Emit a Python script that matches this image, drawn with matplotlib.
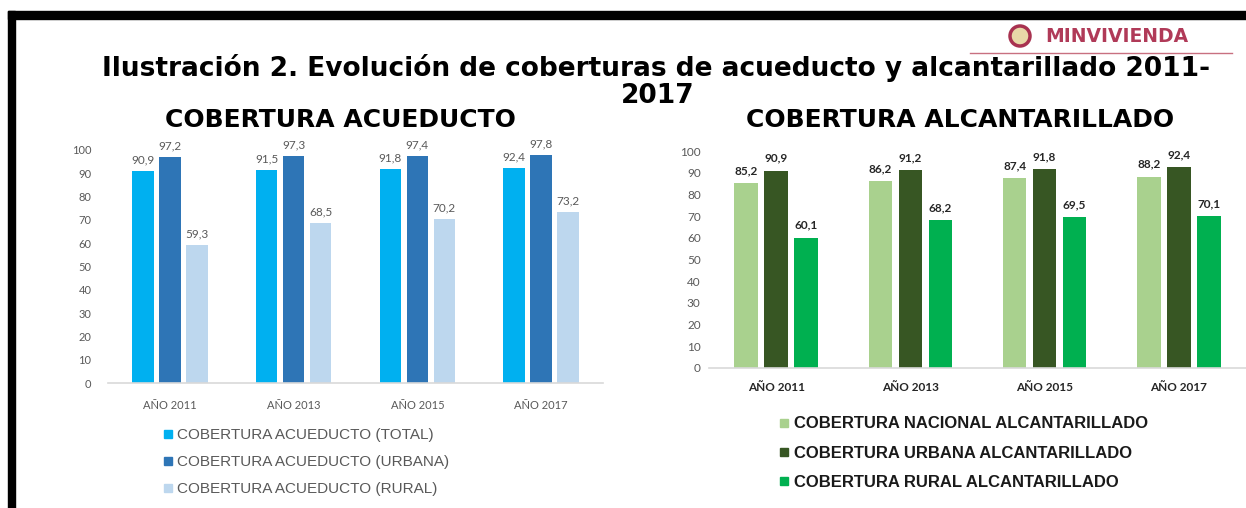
#!/usr/bin/env python3
"""Coberturas de acueducto y alcantarillado 2011-2017 (two grouped bar charts)."""
import numpy as np
import matplotlib

matplotlib.use("Agg")
import matplotlib.pyplot as plt
from matplotlib.lines import Line2D
from matplotlib.patches import Rectangle, Ellipse

# --- data -------------------------------------------------------------
years = ["AÑO 2011", "AÑO 2013", "AÑO 2015", "AÑO 2017"]

acu_total = [90.9, 91.5, 91.8, 92.4]
acu_urbana = [97.2, 97.3, 97.4, 97.8]
acu_rural = [59.3, 68.5, 70.2, 73.2]
acu_names = ["COBERTURA ACUEDUCTO (TOTAL)",
             "COBERTURA ACUEDUCTO (URBANA)",
             "COBERTURA ACUEDUCTO (RURAL)"]

alc_nacional = [85.2, 86.2, 87.4, 88.2]
alc_urbana = [90.9, 91.2, 91.8, 92.4]
alc_rural = [60.1, 68.2, 69.5, 70.1]
alc_names = ["COBERTURA NACIONAL ALCANTARILLADO",
             "COBERTURA URBANA ALCANTARILLADO",
             "COBERTURA RURAL ALCANTARILLADO"]

acu_colors = ["#00B0F0", "#2E75B6", "#BDD7EE"]
alc_colors = ["#A9D18E", "#375623", "#00B050"]

W, H = 1246, 508
NUM = ["Lato", "DejaVu Sans"]
LEG = ["Liberation Sans", "DejaVu Sans"]


def fx(px):
    return px / W


def fy(py):
    return 1 - py / H


def fmt(v):
    return f"{v:.1f}".replace(".", ",")


def grouped(ax, series, colors, width, step, lbl_color, lbl_weight, lbl_off):
    x = np.arange(len(years))
    for i, (vals, col) in enumerate(zip(series, colors)):
        pos = x + (i - 1) * step
        ax.bar(pos, vals, width=width, color=col, zorder=2)
        for p, v in zip(pos, vals):
            ax.annotate(fmt(v), (p, v), xytext=(0, lbl_off),
                        textcoords="offset points", ha="center", va="bottom",
                        fontsize=8.5, color=lbl_color, weight=lbl_weight,
                        family=NUM, clip_on=False)
    ax.set_xlim(-0.5, len(years) - 0.5)
    ax.set_ylim(0, 100)
    ax.set_yticks(range(0, 101, 10))
    ax.set_xticks(x)
    ax.set_xticklabels(years)
    for s in ("top", "right", "left"):
        ax.spines[s].set_visible(False)
    ax.spines["bottom"].set_color("#D9D9D9")
    ax.spines["bottom"].set_linewidth(1.2)
    ax.tick_params(length=0)


def square_legend(ax, names, colors, x_px, ymid_px, size, weight, color,
                  spacing):
    hs = [Line2D([], [], ls="none", marker="s", ms=6, color=c) for c in colors]
    leg = ax.legend(hs, names, loc="center left",
                    bbox_to_anchor=(fx(x_px), fy(ymid_px)),
                    bbox_transform=fig.transFigure, frameon=False,
                    borderpad=0, borderaxespad=0,
                    handlelength=0.6, handletextpad=0.3, labelspacing=spacing,
                    prop={"family": LEG, "size": size, "weight": weight})
    for t in leg.get_texts():
        t.set_color(color)
    return leg


fig = plt.figure(figsize=(W / 100, H / 100), dpi=100)

# black frame (top and left edges only visible)
fig.add_artist(Rectangle((fx(8), fy(19)), fx(W - 8), 8 / H,
                         transform=fig.transFigure, color="black"))
fig.add_artist(Rectangle((fx(8), 0), 7 / W, fy(11),
                         transform=fig.transFigure, color="black"))

# logo
fig.add_artist(Ellipse((fx(1020), fy(36)), 20 / W, 20 / H,
                       transform=fig.transFigure, facecolor="#E8D9A8",
                       edgecolor="#A83250", lw=2.5))
fig.text(fx(1045), fy(36), "MINVIVIENDA", ha="left", va="center",
         fontsize=13.5, weight="bold", color="#B03A58",
         family="DejaVu Sans")
fig.add_artist(Line2D([fx(970), fx(1232)], [fy(53), fy(53)],
                      transform=fig.transFigure, color="#C87080", lw=1))

# titles
fig.text(fx(656), fy(68),
         "Ilustración 2. Evolución de coberturas de acueducto y alcantarillado 2011-",
         ha="center", va="center", fontsize=19, weight="bold",
         family="DejaVu Sans")
fig.text(fx(658), fy(96), "2017", ha="center", va="center", fontsize=19,
         weight="bold", family="DejaVu Sans")
fig.text(fx(340), fy(120), "COBERTURA ACUEDUCTO", ha="center", va="center",
         fontsize=18, weight="bold", family="DejaVu Sans")
fig.text(fx(960), fy(120), "COBERTURA ALCANTARILLADO", ha="center",
         va="center", fontsize=18, weight="bold", family="DejaVu Sans")

# left chart: acueducto
ax1 = fig.add_axes([fx(108), fy(383), 495 / W, 233 / H])
grouped(ax1, [acu_total, acu_urbana, acu_rural], acu_colors,
        0.174, 0.218, "#595959", "normal", 4)
ax1.tick_params(axis="y", pad=12, labelsize=8, labelcolor="#595959")
ax1.tick_params(axis="x", pad=12, labelsize=8, labelcolor="#595959")
for t in ax1.get_xticklabels() + ax1.get_yticklabels():
    t.set_family(NUM)
square_legend(ax1, acu_names, acu_colors, 163, 462, 11, "normal", "#595959",
              0.85)

# right chart: alcantarillado
ax2 = fig.add_axes([fx(709), fy(368), 537 / W, 217 / H])
grouped(ax2, [alc_nacional, alc_urbana, alc_rural], alc_colors,
        0.175, 0.223, "#262626", "bold", 5)
ax2.tick_params(axis="y", pad=6, labelsize=8.5, labelcolor="#595959")
ax2.tick_params(axis="x", pad=10, labelsize=8.5, labelcolor="#262626")
for t in ax2.get_yticklabels():
    t.set_family(NUM)
for t in ax2.get_xticklabels():
    t.set_family(NUM)
    t.set_weight("bold")
square_legend(ax2, alc_names, alc_colors, 779, 453, 12, "bold", "#1A1A1A",
              0.85)

fig.savefig("out.png", dpi=100)
